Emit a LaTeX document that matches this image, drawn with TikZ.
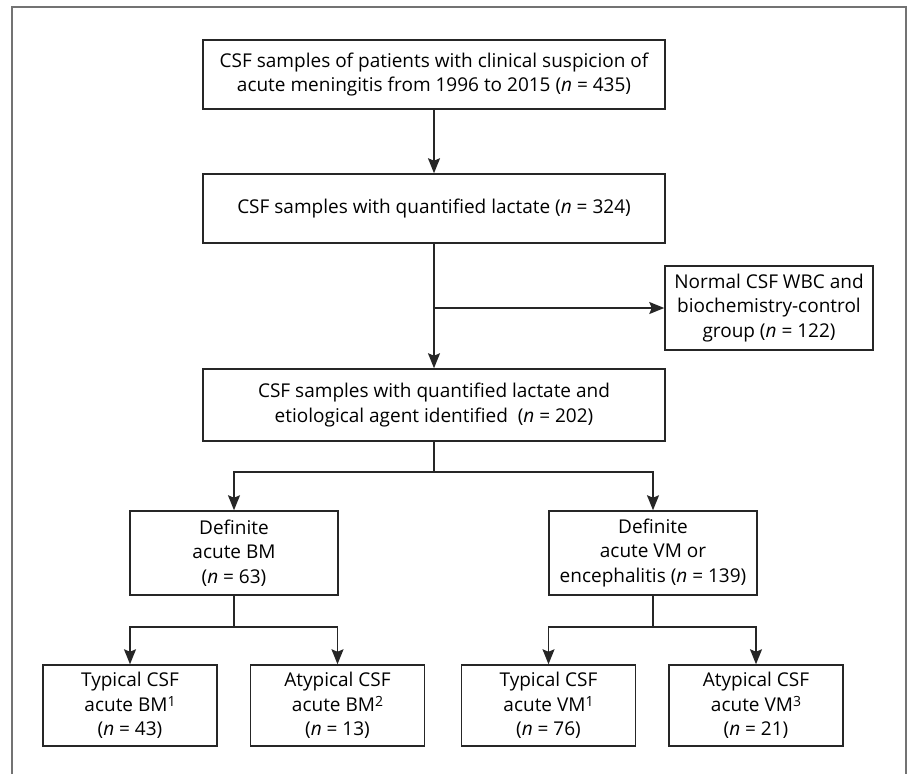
\documentclass[tikz,border=0pt]{standalone}
\usepackage{fontspec}
\setmainfont{Open Sans}
\usetikzlibrary{arrows.meta,positioning}
\newcommand{\supnote}[1]{\raisebox{0.5ex}{\fontsize{14}{14}\selectfont #1}}

\begin{document}
\begin{tikzpicture}[x=1pt,y=-1pt,
		box/.style={draw=black!85, line width=1.5pt, align=center, inner sep=0pt,
			font=\fontsize{19}{24.5}\selectfont},
		arr/.style={-{Stealth[length=15pt,width=12pt,inset=2.5pt]}, line width=1.5pt, draw=black!85},
		lnk/.style={line width=1.5pt, draw=black!85}]
			\useasboundingbox (0,0) rectangle (909,774);
			\draw[black!55, line width=1.3pt] (12,774) -- (12,7) -- (906,7) -- (906,774);
			% top of the chart
			\node[box, minimum width=462pt, minimum height=69pt] (all) at (434,74.5)
				{CSF samples of patients with clinical suspicion of\\acute meningitis from 1996 to 2015 (\textit{n} = 435)};
			\node[box, minimum width=462pt, minimum height=69pt] (lact) at (434,208.5)
				{CSF samples with quantified lactate (\textit{n} = 324)};
			\node[box, minimum width=208pt, minimum height=84pt] (normal) at (769,308)
				{Normal CSF WBC and\\biochemistry-control\\group (\textit{n} = 122)};
			\node[box, minimum width=462pt, minimum height=72pt] (agent) at (434,405)
				{CSF samples with quantified lactate and\\etiological agent identified\ \ (\textit{n} = 202)};
			% definite groups
			\node[box, minimum width=208pt, minimum height=84pt] (bm) at (234,553)
				{Definite\\acute BM\\(\textit{n} = 63)};
			\node[box, minimum width=208pt, minimum height=84pt] (vm) at (653,553)
				{Definite\\acute VM or\\encephalitis (\textit{n} = 139)};
			% typical / atypical
			\node[box, minimum width=174pt, minimum height=81pt] (tbm) at (130,705.5)
				{Typical CSF\\acute BM\supnote{1}\\(\textit{n} = 43)};
			\node[box, minimum width=174pt, minimum height=81pt] (abm) at (337.5,705.5)
				{Atypical CSF\\acute BM\supnote{2}\\(\textit{n} = 13)};
			\node[box, minimum width=174pt, minimum height=81pt] (tvm) at (548.5,705.5)
				{Typical CSF\\acute VM\supnote{1}\\(\textit{n} = 76)};
			\node[box, minimum width=174pt, minimum height=81pt] (avm) at (756,705.5)
				{Atypical CSF\\acute VM\supnote{3}\\(\textit{n} = 21)};
			% connectors
			\coordinate (jn1) at (lact.south |- normal.west);
			\coordinate (jn2) at (434,472);
			\coordinate (jn3) at (234,627);
			\coordinate (jn4) at (653,627);
			\draw[arr] (all) -- (lact);
			\draw[arr] (lact) -- (agent);
			\draw[arr] (jn1) -- (normal.west);
			\draw[lnk] (agent) -- (jn2);
			\draw[arr] (jn2) -| (bm);
			\draw[arr] (jn2) -| (vm);
			\draw[lnk] (bm) -- (jn3);
			\draw[arr] (jn3) -| (tbm);
			\draw[arr] (jn3) -| (abm);
			\draw[lnk] (vm) -- (jn4);
			\draw[arr] (jn4) -| (tvm);
			\draw[arr] (jn4) -| (avm);
		\end{tikzpicture}
\end{document}
